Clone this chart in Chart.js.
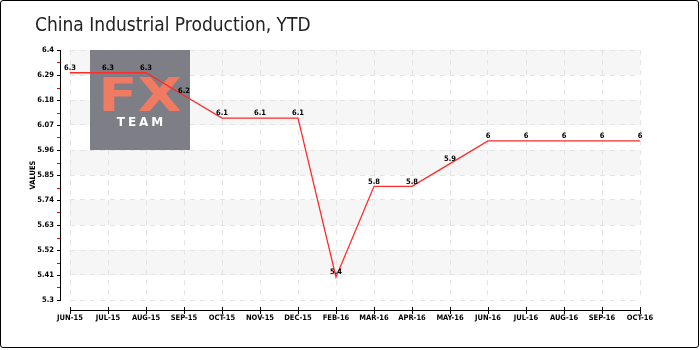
<!DOCTYPE html>
<html>
<head>
<meta charset="utf-8">
<script src="https://cdn.jsdelivr.net/npm/chart.js@4.4.0/dist/chart.umd.min.js"></script>
<style>
    html, body { margin: 0; padding: 0; background: #fff; }
    #wrap { position: relative; width: 700px; height: 350px; overflow: hidden; }
    #chart { position: absolute; left: 0; top: 0; }
    #frame { position: absolute; left: 0; top: 0; width: 697px; height: 346px; border: 1px solid #000; border-radius: 3px; pointer-events: none; }
    #title { position: absolute; left: 35px; top: 15px; font: 19px/19px "DejaVu Sans Condensed", sans-serif; color: #222; white-space: nowrap; }
</style>
</head>
<body>
<div id="wrap">
    <canvas id="chart" width="700" height="350"></canvas>
    <div id="title">China Industrial Production, YTD</div>
    <div id="frame"></div>
</div>
<script>
// ========== DATA ==========
const months = ['JUN-15', 'JUL-15', 'AUG-15', 'SEP-15', 'OCT-15', 'NOV-15', 'DEC-15', 'FEB-16',
                'MAR-16', 'APR-16', 'MAY-16', 'JUN-16', 'JUL-16', 'AUG-16', 'SEP-16', 'OCT-16'];
const production = [6.3, 6.3, 6.3, 6.2, 6.1, 6.1, 6.1, 5.4, 5.8, 5.8, 5.9, 6, 6, 6, 6, 6];
const yTicks = [5.3, 5.41, 5.52, 5.63, 5.74, 5.85, 5.96, 6.07, 6.18, 6.29, 6.4];

const smallFont = { family: '"DejaVu Sans Condensed", "DejaVu Sans", sans-serif', size: 7.5, weight: 'bold' };

// alternating grey bands behind the grid
const bandsPlugin = {
    id: 'bands',
    beforeDraw(chart) {
        const { ctx, chartArea, scales } = chart;
        ctx.save();
        ctx.fillStyle = '#f6f6f6';
        for (let i = 1; i < yTicks.length - 1; i += 2) {
            const top = scales.y.getPixelForValue(yTicks[i + 1]);
            const bottom = scales.y.getPixelForValue(yTicks[i]);
            ctx.fillRect(chartArea.left, top, chartArea.right - chartArea.left, bottom - top);
        }
        ctx.restore();
    }
};

// FX TEAM logo box
const logoPlugin = {
    id: 'logo',
    beforeDatasetsDraw(chart) {
        const { ctx, chartArea } = chart;
        const x = chartArea.left + 20, y = chartArea.top;
        ctx.save();
        ctx.fillStyle = 'rgba(118,118,126,0.94)';
        ctx.fillRect(x, y, 100, 100);
        ctx.fillStyle = '#f07a62';
        ctx.font = 'bold 47px "DejaVu Sans", sans-serif';
        ctx.textAlign = 'center';
        ctx.textBaseline = 'alphabetic';
        ctx.translate(x + 50, y + 61);
        ctx.scale(1.22, 1);
        ctx.fillText('FX', 0, 0);
        ctx.restore();
        ctx.save();
        ctx.fillStyle = '#ffffff';
        ctx.font = 'bold 12px "DejaVu Sans", sans-serif';
        ctx.letterSpacing = '3px';
        ctx.textAlign = 'center';
        ctx.fillText('TEAM', x + 51.5, y + 76);
        ctx.restore();
    }
};

// value labels above each point
const valueLabelsPlugin = {
    id: 'valueLabels',
    afterDatasetsDraw(chart) {
        const { ctx } = chart;
        const meta = chart.getDatasetMeta(0);
        ctx.save();
        ctx.fillStyle = '#000';
        ctx.font = 'bold 7.5px "DejaVu Sans Condensed", "DejaVu Sans", sans-serif';
        ctx.textAlign = 'center';
        ctx.textBaseline = 'bottom';
        meta.data.forEach((pt, i) => {
            ctx.fillText(String(production[i]), pt.x, pt.y - 1);
        });
        ctx.restore();
    }
};

// offset axis lines with tick marks
const axesPlugin = {
    id: 'axes',
    afterDraw(chart) {
        const { ctx, chartArea, scales } = chart;
        const ax = 60;
        const ay = 310;
        ctx.save();
        ctx.fillStyle = '#000';
        const yTop = scales.y.getPixelForValue(yTicks[yTicks.length - 1]);
        const yBot = scales.y.getPixelForValue(yTicks[0]);
        ctx.fillRect(ax, Math.round(yTop), 1, Math.round(yBot - yTop) + 1);
        yTicks.forEach(v => {
            const py = Math.round(scales.y.getPixelForValue(v));
            ctx.fillRect(ax - 3, py, 4, 1);
        });
        ctx.fillStyle = '#ee0000';
        for (let i = 0; i < yTicks.length - 1; i++) {
            const py = Math.round(scales.y.getPixelForValue((yTicks[i] + yTicks[i + 1]) / 2));
            ctx.fillRect(ax - 3, py, 3, 1);
        }
        ctx.fillStyle = '#000';
        ctx.fillRect(chartArea.left, ay, chartArea.right - chartArea.left + 1, 1);
        months.forEach((m, i) => {
            const px = Math.round(scales.x.getPixelForValue(i));
            ctx.fillRect(px, ay - 3, 1, 7);
        });
        ctx.restore();
    }
};

new Chart(document.getElementById('chart'), {
    type: 'line',
    data: {
        labels: months,
        datasets: [{
            label: 'Values',
            data: production,
            borderColor: '#ff2a2a',
            borderWidth: 1.3,
            pointRadius: 0,
            fill: false,
            tension: 0
        }]
    },
    options: {
        responsive: false,
        animation: false,
        layout: { padding: { top: 50, right: 60, left: 0, bottom: 0 } },
        plugins: {
            legend: { display: false },
            tooltip: { enabled: false }
        },
        scales: {
            x: {
                grid: { color: '#e4e4e4', drawTicks: false },
                border: { display: false, dash: [5, 5] },
                ticks: { color: '#000', font: smallFont, padding: 14, maxRotation: 0, autoSkip: false },
                afterFit(s) { s.height = 50; }
            },
            y: {
                min: 5.3,
                max: 6.4,
                afterBuildTicks(s) { s.ticks = yTicks.map(v => ({ value: v })); },
                grid: { color: '#e4e4e4', drawTicks: false },
                border: { display: false, dash: [5, 5] },
                ticks: { color: '#000', font: smallFont, padding: 16, callback: v => String(v) },
                title: { display: true, text: 'VALUES', color: '#000', font: smallFont, padding: { top: 29, bottom: 0 } },
                afterFit(s) { s.width = 70; }
            }
        }
    },
    plugins: [bandsPlugin, logoPlugin, valueLabelsPlugin, axesPlugin]
});
</script>
</body>
</html>
